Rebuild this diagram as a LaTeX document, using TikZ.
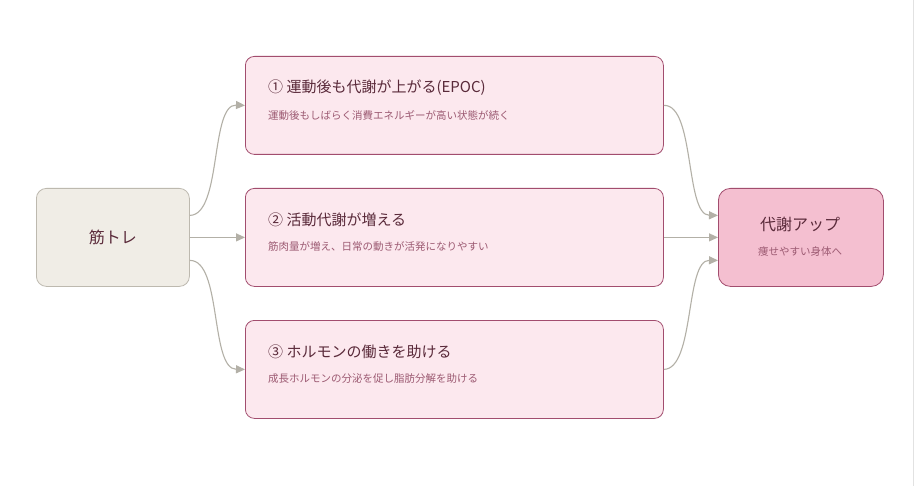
\documentclass[tikz,border=0pt]{standalone}
\usepackage{fontspec}
\setmainfont{Noto Sans CJK JP}
\usetikzlibrary{arrows.meta,calc}
\definecolor{edge}{HTML}{B3B0A7}
\definecolor{sdraw}{HTML}{BDB9AF}
\definecolor{sfill}{HTML}{F0EDE6}
\definecolor{gfill}{HTML}{F4BFD0}
\definecolor{pfill}{HTML}{FCE8EE}
\definecolor{pdraw}{HTML}{A24D6E}
\definecolor{ttl}{HTML}{5A2A3A}
\definecolor{sub}{HTML}{9C5A72}
\definecolor{rline}{HTML}{E2E2E2}
\begin{document}
\begin{tikzpicture}[x=1pt,y=-1pt,
  box/.style={draw=pdraw,fill=pfill,rounded corners=9pt,line width=0.8pt,minimum width=418pt,minimum height=98pt,anchor=north west},
  start/.style={draw=sdraw,fill=sfill,rounded corners=10pt,line width=0.8pt,minimum width=153pt,minimum height=98pt,anchor=north west},
  goal/.style={draw=pdraw,fill=gfill,rounded corners=12pt,line width=0.8pt,minimum width=165pt,minimum height=98pt,anchor=north west},
  conn/.style={draw=edge,line width=1.1pt,-{Triangle[length=9pt,width=8pt]}},
  tt/.style={anchor=west,text=ttl,font=\fontsize{15}{18}\selectfont,inner sep=0},
  st/.style={anchor=west,text=sub,font=\fontsize{10.5}{13}\selectfont,inner sep=0}]
\useasboundingbox[fill=white] (0,0) rectangle (917,486);
\draw[rline,line width=1pt] (913,0) -- (913,486);
\node[start] (s) at (36,188) {};
\node[text=ttl,font=\fontsize{16}{19}\selectfont] (st) at (s.center) {筋トレ};
\node[box] (b1) at (245,56) {};
\node[box] (b2) at (245,188) {};
\node[box] (b3) at (245,320) {};
\node[goal] (g) at (718,188) {};
\node[tt] (t1) at (268,88) {① 運動後も代謝が上がる(EPOC)};
\node[st] (u1) at (268,115) {運動後もしばらく消費エネルギーが高い状態が続く};
\node[tt] (t2) at (268,220) {② 活動代謝が増える};
\node[st] (u2) at (268,247) {筋肉量が増え、日常の動きが活発になりやすい};
\node[tt] (t3) at (268,352) {③ ホルモンの働きを助ける};
\node[st] (u3) at (268,379) {成長ホルモンの分泌を促し脂肪分解を助ける};
\node[text=ttl,font=\fontsize{16}{19}\selectfont] (gt) at (800,224) {代謝アップ};
\node[text=sub,font=\fontsize{10.5}{13}\selectfont] (gs) at (800,251) {痩せやすい身体へ};
\coordinate (s1) at ($(s.east)+(0,-22)$);
\coordinate (s3) at ($(s.east)+(0,23)$);
\coordinate (g1) at ($(g.west)+(0,-22)$);
\coordinate (g3) at ($(g.west)+(0,23)$);
\draw[conn] (s1) .. controls (222,215) and (210,104) .. (b1.west);
\draw[conn] (s.east) -- (b2.west);
\draw[conn] (s3) .. controls (222,260) and (210,369) .. (b3.west);
\draw[conn] (b1.east) .. controls (695,104) and (685,215) .. (g1);
\draw[conn] (b2.east) -- (g.west);
\draw[conn] (b3.east) .. controls (695,369) and (685,260) .. (g3);
\end{tikzpicture}
\end{document}
